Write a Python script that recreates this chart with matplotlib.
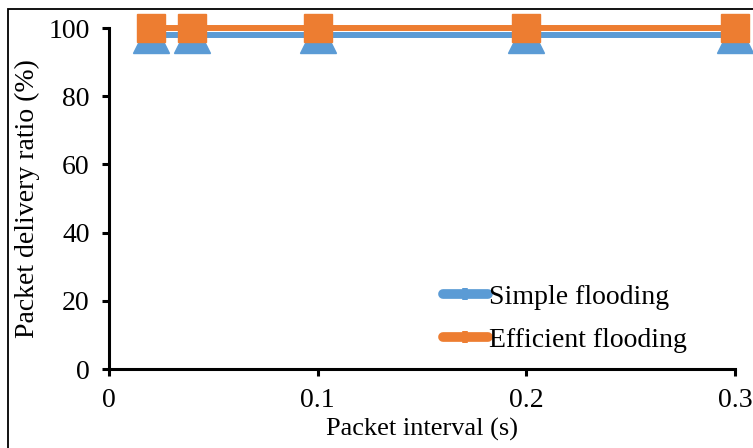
import matplotlib.pyplot as plt
from matplotlib.patches import Rectangle
from matplotlib.lines import Line2D

intervals = [0.02, 0.04, 0.1, 0.2, 0.3]
simple_pdr = [98, 98, 98, 98, 98]
efficient_pdr = [100, 100, 100, 100, 100]

blue = '#5B9BD5'
orange = '#ED7D31'

plt.rcParams['font.family'] = ['Liberation Serif', 'DejaVu Serif']
plt.rcParams['font.size'] = 20

fig = plt.figure(figsize=(7.53, 4.48), dpi=100)
ax = fig.add_axes([109 / 753, 1 - 369 / 448, (735 - 109) / 753, (369 - 28) / 448])

ax.plot(intervals, simple_pdr, color=blue, lw=4.3, marker='^', ms=26,
        clip_on=False, zorder=3)
ax.plot(intervals, efficient_pdr, color=orange, lw=4.3, marker='s', ms=20,
        clip_on=False, zorder=4)

ax.set_xlim(0, 0.3)
ax.set_ylim(0, 100)
ax.set_xticks([0, 0.1, 0.2, 0.3])
ax.set_xticklabels(['0', '0.1', '0.2', '0.3'])
ax.set_yticks(range(0, 101, 20))

for s in ['top', 'right']:
    ax.spines[s].set_visible(False)
for s in ['left', 'bottom']:
    ax.spines[s].set_linewidth(2.2)
ax.tick_params(direction='out', length=5, width=2.2, pad=9, labelsize=20)

ax.set_xlabel('Packet interval (s)', fontsize=19, labelpad=3)
ax.set_ylabel('Packet delivery ratio (%)', fontsize=20, labelpad=6)

handles = [
    Line2D([], [], color=blue, lw=7, marker='+', ms=9, mew=4,
           solid_capstyle='round'),
    Line2D([], [], color=orange, lw=7, marker='+', ms=9, mew=4,
           solid_capstyle='round'),
]
ax.legend(handles, ['Simple flooding', 'Efficient flooding'], loc='lower right',
          bbox_to_anchor=(0.963, -0.025), frameon=False, handlelength=1.6,
          handletextpad=0.05, fontsize=20, labelspacing=0.62)

fig.patches.append(Rectangle((8 / 753, -0.1), 1.2, 1.1 - 9 / 448,
                             transform=fig.transFigure, fill=False,
                             lw=1.3, edgecolor='black', clip_on=False))

fig.savefig('out.png', dpi=100)
